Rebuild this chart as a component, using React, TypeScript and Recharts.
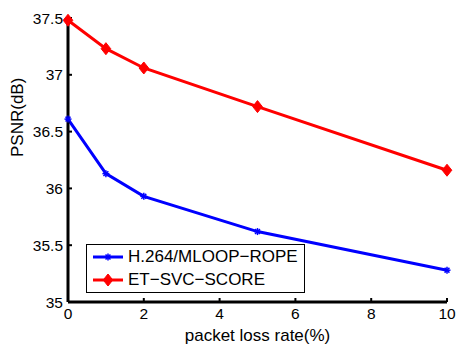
import React from 'react';
import { LineChart, Line, XAxis, YAxis, Legend } from 'recharts';

const lossRates = [0, 1, 2, 5, 10];
const h264Psnr = [36.61, 36.13, 35.93, 35.62, 35.28];
const etSvcPsnr = [37.48, 37.23, 37.06, 36.72, 36.16];
const xTicks = [0, 2, 4, 6, 8, 10];
const yTicks = [35, 35.5, 36, 36.5, 37, 37.5];

const data = lossRates.map((x, i) => ({ x, h264: h264Psnr[i], et: etSvcPsnr[i] }));

const FONT = '"Liberation Sans", Arial, Helvetica, sans-serif';

const StarDot = (props: any) => {
  const { cx, cy } = props;
  if (cx == null || cy == null) return null;
  const r = 3.5;
  return (
    <g stroke="#0000ff" strokeWidth={1.5}>
      <line x1={cx - r} y1={cy} x2={cx + r} y2={cy} />
      <line x1={cx} y1={cy - r} x2={cx} y2={cy + r} />
      <line x1={cx - r * 0.7} y1={cy - r * 0.7} x2={cx + r * 0.7} y2={cy + r * 0.7} />
      <line x1={cx - r * 0.7} y1={cy + r * 0.7} x2={cx + r * 0.7} y2={cy - r * 0.7} />
    </g>
  );
};

const DiamondDot = (props: any) => {
  const { cx, cy } = props;
  if (cx == null || cy == null) return null;
  const r = 6;
  return (
    <path
      d={`M${cx},${cy - r}L${cx + r * 0.8},${cy}L${cx},${cy + r}L${cx - r * 0.8},${cy}Z`}
      fill="#ff0000"
      stroke="#ff0000"
      strokeWidth={1}
    />
  );
};

const LegendBox = () => {
  const items = [
    { label: 'H.264/MLOOP\u2212ROPE', color: '#0000ff', dot: StarDot },
    { label: 'ET\u2212SVC\u2212SCORE', color: '#ff0000', dot: DiamondDot },
  ];
  return (
    <div
      style={{
        border: '1px solid #000',
        background: '#fff',
        width: 219,
        height: 49,
        boxSizing: 'border-box',
        fontFamily: FONT,
        fontSize: 17,
      }}
    >
      {items.map((it) => {
        const Dot = it.dot;
        return (
          <div key={it.label} style={{ display: 'flex', alignItems: 'center', height: 23.5 }}>
            <svg width={40} height={20}>
              <line x1={6} y1={10} x2={36} y2={10} stroke={it.color} strokeWidth={3} />
              <Dot cx={21} cy={10} />
            </svg>
            <span style={{ marginLeft: 1, lineHeight: '20px', whiteSpace: 'nowrap' }}>{it.label}</span>
          </div>
        );
      })}
    </div>
  );
};

export default function App() {
  return (
    <div style={{ position: 'absolute', left: 0, top: 0, width: 456, height: 344, background: '#fff' }}>
      <LineChart
        width={456}
        height={344}
        data={data}
        margin={{ top: 18, right: 9, left: 0, bottom: 0 }}
        style={{ fontFamily: FONT }}
      >
        <XAxis
          dataKey="x"
          type="number"
          domain={[0, 10]}
          ticks={xTicks}
          height={42}
          axisLine={{ stroke: '#000', strokeWidth: 3 }}
          tickLine={{ stroke: '#000', strokeWidth: 2 }}
          tickSize={-4}
          tickMargin={10}
          tick={{ fill: '#000', fontSize: 15.5 }}
          label={{ value: 'packet loss rate(%)', position: 'insideBottom', offset: 3, fill: '#000', fontSize: 17 }}
        />
        <YAxis
          type="number"
          domain={[35, 37.5]}
          ticks={yTicks}
          width={68}
          axisLine={{ stroke: '#000', strokeWidth: 3 }}
          tickLine={{ stroke: '#000', strokeWidth: 2 }}
          tickSize={-4}
          tickMargin={9}
          tick={{ fill: '#000', fontSize: 15.5 }}
          label={{ value: 'PSNR(dB)', angle: -90, position: 'insideLeft', offset: 17, dy: -3, fill: '#000', fontSize: 17 }}
        />
        <Legend
          layout="horizontal"
          verticalAlign="middle"
          align="center"
          content={<LegendBox />}
          wrapperStyle={{ position: 'absolute', left: 86, top: 244, width: 219, height: 49 }}
        />
        <Line
          dataKey="h264"
          stroke="#0000ff"
          strokeWidth={3}
          dot={<StarDot />}
          activeDot={false}
          isAnimationActive={false}
        />
        <Line
          dataKey="et"
          stroke="#ff0000"
          strokeWidth={3}
          dot={<DiamondDot />}
          activeDot={false}
          isAnimationActive={false}
        />
      </LineChart>
    </div>
  );
}
